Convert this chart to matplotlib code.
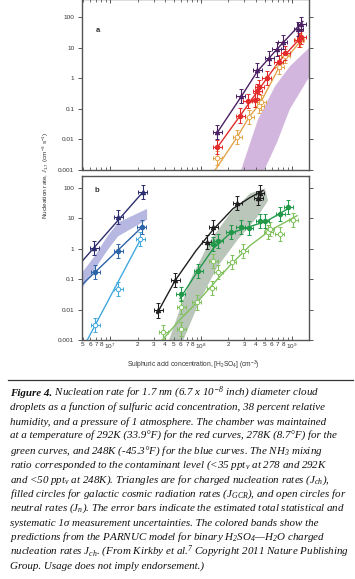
import numpy as np
import matplotlib
matplotlib.use("Agg")
import matplotlib.pyplot as plt
from matplotlib.ticker import FixedLocator, FuncFormatter, NullLocator
from matplotlib.lines import Line2D

W, H = 355, 579

plt.rcParams["font.family"] = ["Liberation Sans", "DejaVu Sans"]
plt.rcParams["mathtext.fontset"] = "custom"
plt.rcParams["mathtext.rm"] = "Liberation Serif:italic"
plt.rcParams["mathtext.it"] = "Liberation Serif:italic"
plt.rcParams["mathtext.bf"] = "Liberation Serif:bold:italic"
plt.rcParams["mathtext.sf"] = "Liberation Sans"

# ---- panel a: 292 K ----
a_ch_x = [1.51e8, 2.73e8, 4.16e8, 5.64e8, 6.8e8, 7.96e8, 1.17e9, 1.26e9]
a_ch_y = [0.017, 0.26, 1.87, 4.8, 9.4, 15.5, 42, 62]
a_gcr_x = [1.51e8, 2.7e8, 3.26e8, 3.92e8, 4.16e8, 4.38e8, 5.27e8, 7.13e8, 8.43e8, 1.19e9, 1.27e9]
a_gcr_y = [0.0057, 0.061, 0.176, 0.19, 0.375, 0.51, 1.05, 3.4, 7.0, 18.6, 22.9]
a_n_x = [1.5e8, 2.5e8, 3.4e8, 4.38e8, 4.57e8, 7.25e8, 8.43e8, 1.22e9]
a_n_y = [0.0024, 0.0123, 0.055, 0.124, 0.163, 2.3, 5.3, 17.6]

a_ch_fit_x = [1.51e8, 2.78e8, 4.16e8, 6.8e8, 1.32e9]
a_ch_fit_y = [0.017, 0.26, 1.7, 8.9, 74]
a_gcr_fit_x = [1.51e8, 2.7e8, 4.16e8, 7.2e8, 1.29e9]
a_gcr_fit_y = [0.0055, 0.061, 0.37, 3.6, 24]
a_n_fit_x = [1.43e8, 2.5e8, 3.4e8, 4.45e8, 7.2e8, 1.26e9]
a_n_fit_y = [0.001, 0.012, 0.056, 0.15, 2.3, 17.6]

a_band_up_x = [2.69e8, 4.23e8, 6.5e8, 9.5e8, 1.6e9]
a_band_up_y = [0.0008, 0.045, 0.55, 2.5, 11]
a_band_lo_x = [4.8e8, 6.84e8, 9.5e8, 1.6e9]
a_band_lo_y = [0.0008, 0.0079, 0.1, 1.3]

# ---- panel b: 248 K (blue) ----
b_blue_ch_x = [6.72e6, 1.23e7, 2.29e7]
b_blue_ch_y = [1.05, 10.6, 70]
b_blue_gcr_x = [6.84e6, 1.23e7, 2.23e7]
b_blue_gcr_y = [0.167, 0.86, 5.0]
b_blue_n_x = [6.84e6, 1.23e7, 2.14e7]
b_blue_n_y = [0.003, 0.048, 2.08]

b_blue_ch_fit_x = [4.9e6, 2.3e7]
b_blue_ch_fit_y = [0.38, 72]
b_blue_gcr_fit_x = [4.9e6, 2.23e7]
b_blue_gcr_fit_y = [0.065, 5.0]
b_blue_n_fit_x = [5.6e6, 2.2e7]
b_blue_n_fit_y = [0.001, 2.2]

b_blue_band_x = [4.9e6, 6.84e6, 9.3e6, 1.22e7, 2.55e7]
b_blue_band_up = [0.16, 0.59, 2.5, 7.1, 20]
b_blue_band_lo = [0.049, 0.22, 0.86, 2.5, 8.9]

# ---- panel b: 278 K (green) ----
b_green_ch_x = [3.4e7, 5.18e7, 1.15e8, 1.36e8, 2.5e8, 4.27e8, 4.45e8]
b_green_ch_y = [0.0093, 0.094, 1.6, 5.0, 32, 47, 69]
b_green_gcr_x = [5.98e7, 9.3e7, 1.36e8, 1.55e8, 2.12e8, 2.73e8, 3.37e8, 4.45e8, 5.05e8, 7.4e8, 9.1e8]
b_green_gcr_y = [0.033, 0.19, 1.43, 1.73, 3.4, 5.0, 4.8, 7.85, 8.3, 13.7, 22.6]
b_green_n_x = [3.85e7, 6.03e7, 6.03e7, 8.97e7, 1.31e8, 1.37e8, 1.55e8, 2.17e8, 2.92e8, 5.5e8, 5.73e8, 7.38e8, 1.03e9]
b_green_n_y = [0.0018, 0.012, 0.0023, 0.017, 0.051, 0.40, 0.167, 0.36, 0.86, 3.4, 4.4, 3.0, 8.7]

b_green_ch_fit_x = [3.28e7, 5.18e7, 8.81e7, 1.36e8, 2.25e8, 3.45e8, 4.8e8]
b_green_ch_fit_y = [0.0074, 0.089, 0.86, 4.2, 20.5, 47, 80]
b_green_gcr_fit_x = [5.87e7, 9.27e7, 1.36e8, 2.08e8, 3.45e8, 5.17e8, 9.5e8]
b_green_gcr_fit_y = [0.023, 0.19, 1.0, 3.1, 5.3, 7.7, 22]
b_green_n_fit_x = [3.63e7, 6.03e7, 9.0e7, 1.32e8, 2.08e8, 3.45e8, 5.73e8, 1.14e9]
b_green_n_fit_y = [0.0009, 0.0051, 0.017, 0.062, 0.28, 1.25, 3.9, 12]

b_green_band_up_x = [4.33e7, 7.57e7, 1.26e8, 2.08e8, 3.45e8, 5.05e8]
b_green_band_up_y = [0.0008, 0.089, 1.83, 14, 64, 93]
b_green_band_lo_x = [6.18e7, 9.75e7, 1.5e8, 2.49e8, 4.12e8, 5.45e8]
b_green_band_lo_y = [0.0008, 0.02, 0.24, 1.83, 10.4, 37]

# error sizes (relative)
x_err_fac = 1.12
y_err_fac = 1.7

y_ticks = [1e-3, 1e-2, 1e-1, 1, 10, 100]
y_tick_labels = ["0.001", "0.01", "0.1", "1", "10", "100"]
x_major = [1e7, 1e8, 1e9]
x_minor = [m * 10.0 ** e for e in (6, 7, 8, 9) for m in range(2, 10)]

caption_lines = [
    " Nucleation rate for 1.7 nm (6.7 x 10$^{-8}$ inch) diameter cloud",
    "droplets as a function of sulfuric acid concentration, 38 percent relative",
    "humidity, and a pressure of 1 atmosphere. The chamber was maintained",
    "at a temperature of 292K (33.9\u00b0F) for the red curves, 278K (8.7\u00b0F) for the",
    "green curves, and 248K (-45.3\u00b0F) for the blue curves. The NH$_{3}$ mixing",
    "ratio corresponded to the contaminant level (<35 ppt$_{v}$ at 278 and 292K",
    "and <50 ppt$_{v}$ at 248K). Triangles are for charged nucleation rates (J$_{ch}$),",
    "filled circles for galactic cosmic radiation rates (J$_{GCR}$), and open circles for",
    "neutral rates (J$_{n}$). The error bars indicate the estimated total statistical and",
    "systematic 1\u03c3 measurement uncertainties. The colored bands show the",
    "predictions from the PARNUC model for binary H$_{2}$SO$_{4}$\u2014H$_{2}$O charged",
    "nucleation rates J$_{ch}$. (From Kirkby et al.$^{7}$ Copyright 2011 Nature Publishing",
    "Group. Usage does not imply endorsement.)",
]

SPINE = "#555555"
TXT = "#333333"


def pts(x, y):
    x = np.asarray(x, float)
    y = np.asarray(y, float)
    xerr = [x - x / x_err_fac, x * x_err_fac - x]
    yerr = [y - y / y_err_fac, y * y_err_fac - y]
    return x, y, xerr, yerr


def draw_series(ax, x, y, fit_x, fit_y, color, marker, filled):
    ax.plot(fit_x, fit_y, color=color, lw=1.0, zorder=2)
    x, y, xerr, yerr = pts(x, y)
    ax.errorbar(x, y, xerr=xerr, yerr=yerr, fmt=marker, ms=3.2,
                color=color, mec=color, mfc=color if filled else "white",
                mew=0.7, ecolor=color, elinewidth=0.8, capsize=1.6,
                capthick=0.8, zorder=3)


def band(ax, up_x, up_y, lo_x, lo_y, color):
    bx = list(up_x) + list(lo_x)[::-1]
    by = list(up_y) + list(lo_y)[::-1]
    ax.fill(bx, by, color=color, lw=0, zorder=1)


def minor_fmt(v, pos):
    m = int(round(v / 10 ** np.floor(np.log10(v) + 1e-9)))
    return str(m) if m <= 8 else ""


def major_fmt(v, pos):
    return r"$\mathsf{10^{%d}}$" % int(round(np.log10(v)))


def style(ax, ylim, top_ticks, xlabels):
    ax.set_xscale("log")
    ax.set_yscale("log")
    ax.set_xlim(4.9e6, 1.54e9)
    ax.set_ylim(*ylim)
    ax.yaxis.set_major_locator(FixedLocator(y_ticks))
    ax.set_yticklabels(y_tick_labels)
    ax.yaxis.set_minor_locator(NullLocator())
    ax.xaxis.set_major_locator(FixedLocator(x_major))
    ax.xaxis.set_minor_locator(FixedLocator(x_minor))
    for s in ax.spines.values():
        s.set_color(SPINE)
        s.set_linewidth(1.0)
    ax.tick_params(axis="y", which="major", direction="out", length=3,
                   width=0.7, left=True, right=True, color=SPINE,
                   labelsize=4.6, labelcolor=TXT, pad=2.5)
    ax.tick_params(axis="x", which="major", direction="in", length=3.2,
                   width=0.7, top=top_ticks, bottom=True, color=SPINE,
                   labelsize=4.6, labelcolor=TXT, pad=1.5)
    ax.tick_params(axis="x", which="minor", direction="in", length=2,
                   width=0.6, top=top_ticks, bottom=True, color=SPINE,
                   labelsize=4.6, labelcolor=TXT, pad=1.5)
    if xlabels:
        ax.xaxis.set_major_formatter(FuncFormatter(major_fmt))
        ax.xaxis.set_minor_formatter(FuncFormatter(minor_fmt))
    else:
        ax.tick_params(axis="x", which="both", labelbottom=False)


fig = plt.figure(figsize=(W / 100, H / 100), dpi=100)

ax_a = fig.add_axes([82 / W, 1 - 170 / H, 227 / W, 171 / H])
band(ax_a, a_band_up_x, a_band_up_y, a_band_lo_x, a_band_lo_y, "#d3b6de")
draw_series(ax_a, a_n_x, a_n_y, a_n_fit_x, a_n_fit_y, "#e4a44a", "o", False)
draw_series(ax_a, a_gcr_x, a_gcr_y, a_gcr_fit_x, a_gcr_fit_y, "#e32b2b", "o", True)
draw_series(ax_a, a_ch_x, a_ch_y, a_ch_fit_x, a_ch_fit_y, "#4b2163", "^", True)
style(ax_a, (1e-3, 400), True, False)
ax_a.text(98 / W, 1 - 30 / H, "a", transform=fig.transFigure, fontsize=5.5,
          fontweight="bold", color=TXT, ha="center", va="center")

ax_b = fig.add_axes([82 / W, 1 - 340 / H, 227 / W, 164 / H])
band(ax_b, b_blue_band_x, b_blue_band_up, b_blue_band_x, b_blue_band_lo, "#b6b8e2")
band(ax_b, b_green_band_up_x, b_green_band_up_y, b_green_band_lo_x, b_green_band_lo_y, "#b9c6b9")
draw_series(ax_b, b_blue_n_x, b_blue_n_y, b_blue_n_fit_x, b_blue_n_fit_y, "#41a9de", "o", False)
draw_series(ax_b, b_blue_gcr_x, b_blue_gcr_y, b_blue_gcr_fit_x, b_blue_gcr_fit_y, "#2e64a8", "o", True)
draw_series(ax_b, b_blue_ch_x, b_blue_ch_y, b_blue_ch_fit_x, b_blue_ch_fit_y, "#2b2d6e", "^", True)
draw_series(ax_b, b_green_n_x, b_green_n_y, b_green_n_fit_x, b_green_n_fit_y, "#7fc15b", "o", False)
draw_series(ax_b, b_green_gcr_x, b_green_gcr_y, b_green_gcr_fit_x, b_green_gcr_fit_y, "#22994a", "o", True)
draw_series(ax_b, b_green_ch_x, b_green_ch_y, b_green_ch_fit_x, b_green_ch_fit_y, "#1e1e1e", "^", True)
style(ax_b, (1e-3, 240), False, True)
ax_b.text(97 / W, 1 - 191 / H, "b", transform=fig.transFigure, fontsize=5.5,
          fontweight="bold", color=TXT, ha="center", va="center")

fig.text(46 / W, 1 - 175 / H,
         r"Nucleation rate, $J_{\mathsf{1.7}}$ (cm$^{\mathsf{-3}}$ s$^{\mathsf{-1}}$)",
         rotation=90, ha="center", va="center", fontsize=4.6, color=TXT)
fig.text(193 / W, 1 - 365 / H,
         r"Sulphuric acid concentration, [H$_{\mathsf{2}}$SO$_{\mathsf{4}}$] (cm$^{\mathsf{-3}}$)",
         ha="center", va="center", fontsize=4.8, color=TXT)

# caption
cap = fig.add_axes([0, 0, 1, 1])
cap.set_axis_off()
cap.set_xlim(0, W)
cap.set_ylim(H, 0)
cap.add_line(Line2D([8, 353], [380, 380], color="#333333", lw=0.9))

fs = 7.95
serif = dict(family="Liberation Serif", style="italic", fontsize=fs,
             color="#111111", va="baseline", ha="left")
t_fig = cap.text(10, 396, "Figure 4.", fontweight="bold", **serif)
fig.canvas.draw()
bb = t_fig.get_window_extent()
x_after = cap.transData.inverted().transform((bb.x1, 0))[0]
for i, line in enumerate(caption_lines):
    x0 = x_after if i == 0 else 10
    cap.text(x0, 396 + 14.4 * i, line, **serif)

fig.savefig("out.png", dpi=100)
